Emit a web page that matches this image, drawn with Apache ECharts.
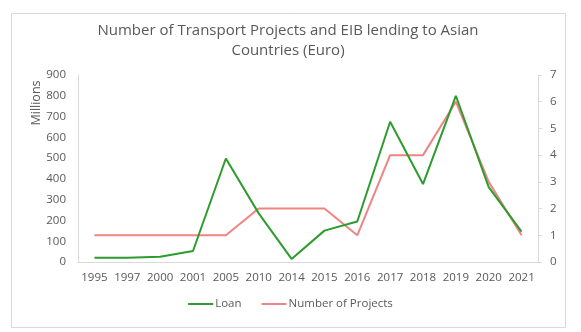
<!DOCTYPE html>
<html>
<head>
<meta charset="utf-8">
<script src="https://cdn.jsdelivr.net/npm/echarts@6/dist/echarts.min.js"></script>
<style>
html,body{margin:0;padding:0;background:#fff;}
#chart{width:581px;height:332px;}
</style>
</head>
<body>
<div id="chart"></div>
<script>
const years = ['1995','1997','2000','2001','2005','2010','2014','2015','2016','2017','2018','2019','2020','2021'];
const loan = [20, 20, 25, 53, 498, 234, 15, 151, 195, 675, 375, 800, 360, 146];
const projects = [1, 1, 1, 1, 1, 2, 2, 2, 1, 4, 4, 6, 3, 1];
const leftTicks = {min: 0, max: 900, interval: 100};
const rightTicks = {min: 0, max: 7, interval: 1};

const font = 'Open Sans';
const txt = '#595959';
const chart = echarts.init(document.getElementById('chart'), null, {renderer: 'canvas'});
chart.setOption({
  animation: false,
  backgroundColor: '#fff',
  textStyle: {fontFamily: font},
  graphic: [
    {type: 'rect', shape: {x: 11.5, y: 13.5, width: 554, height: 314}, style: {fill: 'none', stroke: '#d9d9d9', lineWidth: 1}, z: -1},
    {type: 'text', x: 288, y: 31, style: {text: 'Number of Transport Projects and EIB lending to Asian', font: '15px "Open Sans"', fill: txt, textAlign: 'center', textVerticalAlign: 'middle'}},
    {type: 'text', x: 288, y: 51, style: {text: 'Countries (Euro)', font: '15px "Open Sans"', fill: txt, textAlign: 'center', textVerticalAlign: 'middle'}},
    {type: 'text', x: 36, y: 103, rotation: Math.PI / 2, style: {text: 'Millions', font: '12.5px "Open Sans"', fill: txt, textAlign: 'center', textVerticalAlign: 'middle'}}
  ],
  legend: {
    bottom: 17,
    left: 'center',
    itemWidth: 25,
    itemHeight: 2,
    itemGap: 20,
    icon: 'rect',
    textStyle: {fontFamily: font, fontSize: 11.5, color: txt, padding: [0,0,0,-3]},
    data: ['Loan', 'Number of Projects']
  },
  grid: {left: 78, right: 43, top: 75, bottom: 70, containLabel: false},
  xAxis: {
    type: 'category',
    data: years,
    boundaryGap: true,
    axisLine: {lineStyle: {color: '#d9d9d9'}},
    axisTick: {show: false},
    axisLabel: {color: txt, fontSize: 11.5, fontFamily: font, margin: 10, interval: 0}
  },
  yAxis: [
    {
      type: 'value', min: leftTicks.min, max: leftTicks.max, interval: leftTicks.interval,
      axisLine: {show: true, lineStyle: {color: '#d9d9d9'}},
      axisTick: {show: false},
      splitLine: {show: false},
      axisLabel: {color: txt, fontSize: 11.5, fontFamily: font, margin: 12}
    },
    {
      type: 'value', min: rightTicks.min, max: rightTicks.max, interval: rightTicks.interval,
      position: 'right',
      axisLine: {show: true, lineStyle: {color: '#d9d9d9'}},
      axisTick: {show: true, length: 4, lineStyle: {color: '#d9d9d9'}},
      splitLine: {show: false},
      axisLabel: {color: txt, fontSize: 11.5, fontFamily: font, margin: 12}
    }
  ],
  series: [
    {name: 'Loan', type: 'line', data: loan, yAxisIndex: 0, symbol: 'none', color: '#2E9B2E', lineStyle: {width: 2, color: '#2E9B2E'}, z: 3},
    {name: 'Number of Projects', type: 'line', data: projects, yAxisIndex: 1, symbol: 'none', color: '#F08484', lineStyle: {width: 2, color: '#F08484'}, z: 2}
  ]
});
</script>
</body>
</html>
